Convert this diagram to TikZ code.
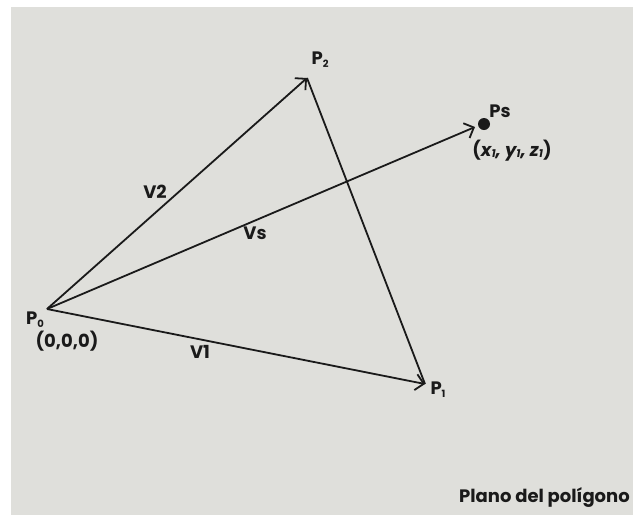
\documentclass[tikz,border=0pt]{standalone}
\usepackage{fontspec}
\setmainfont{Poppins}
\usetikzlibrary{arrows.meta}
\definecolor{bg}{HTML}{DFDFDB}
\definecolor{ink}{HTML}{1A1A1A}
\begin{document}
\begin{tikzpicture}[x=1pt,y=-1pt,
  vec/.style={draw=ink,line width=1.8pt,-{Straight Barb[length=8pt,width=16pt,line width=1.8pt]}},
  edge/.style={draw=ink,line width=1.8pt},
  lbl/.style={text=ink,font=\fontsize{18}{20}\selectfont\bfseries,inner sep=0pt}]
\useasboundingbox (0,0) rectangle (633,515);
\fill[white] (0,0) rectangle (633,515);
\fill[bg] (11,7) rectangle (633,515);
\coordinate (P0) at (47,309);
\coordinate (P2) at (307,78);
\coordinate (P1) at (425,384);
\coordinate (PsTip) at (475,127);
\fill[ink] (484,124) circle (6pt);
\path[vec] (P0) -- (P2);
\path[vec] (P0) -- (P1);
\path[vec] (P0) -- (PsTip);
\path[edge] (P2) -- (P1);
\node[lbl] (lp2) at (320,60) {P\raisebox{-3pt}{\fontsize{10}{10}\selectfont 2}};
\node[lbl] (lps) at (500,111) {Ps};
\node[lbl] (lxyz) at (512,151) {(\itshape x\raisebox{-1pt}{\fontsize{11}{11}\selectfont 1}, y\raisebox{-1pt}{\fontsize{11}{11}\selectfont 1}, z\raisebox{-1pt}{\fontsize{11}{11}\selectfont 1}\upshape)};
\node[lbl] (lv2) at (155,192) {V2};
\node[lbl] (lvs) at (255,233) {Vs};
\node[lbl] (lp0) at (35,320) {P\raisebox{-3pt}{\fontsize{10}{10}\selectfont 0}};
\node[lbl] (l000) at (67,341) {(0,0,0)};
\node[lbl] (lv1) at (200,352) {V1};
\node[lbl] (lp1) at (438,390) {P\raisebox{-3pt}{\fontsize{10}{10}\selectfont 1}};
\node[lbl,anchor=east] (plano) at (630,497) {Plano del polígono};
\end{tikzpicture}
\end{document}
